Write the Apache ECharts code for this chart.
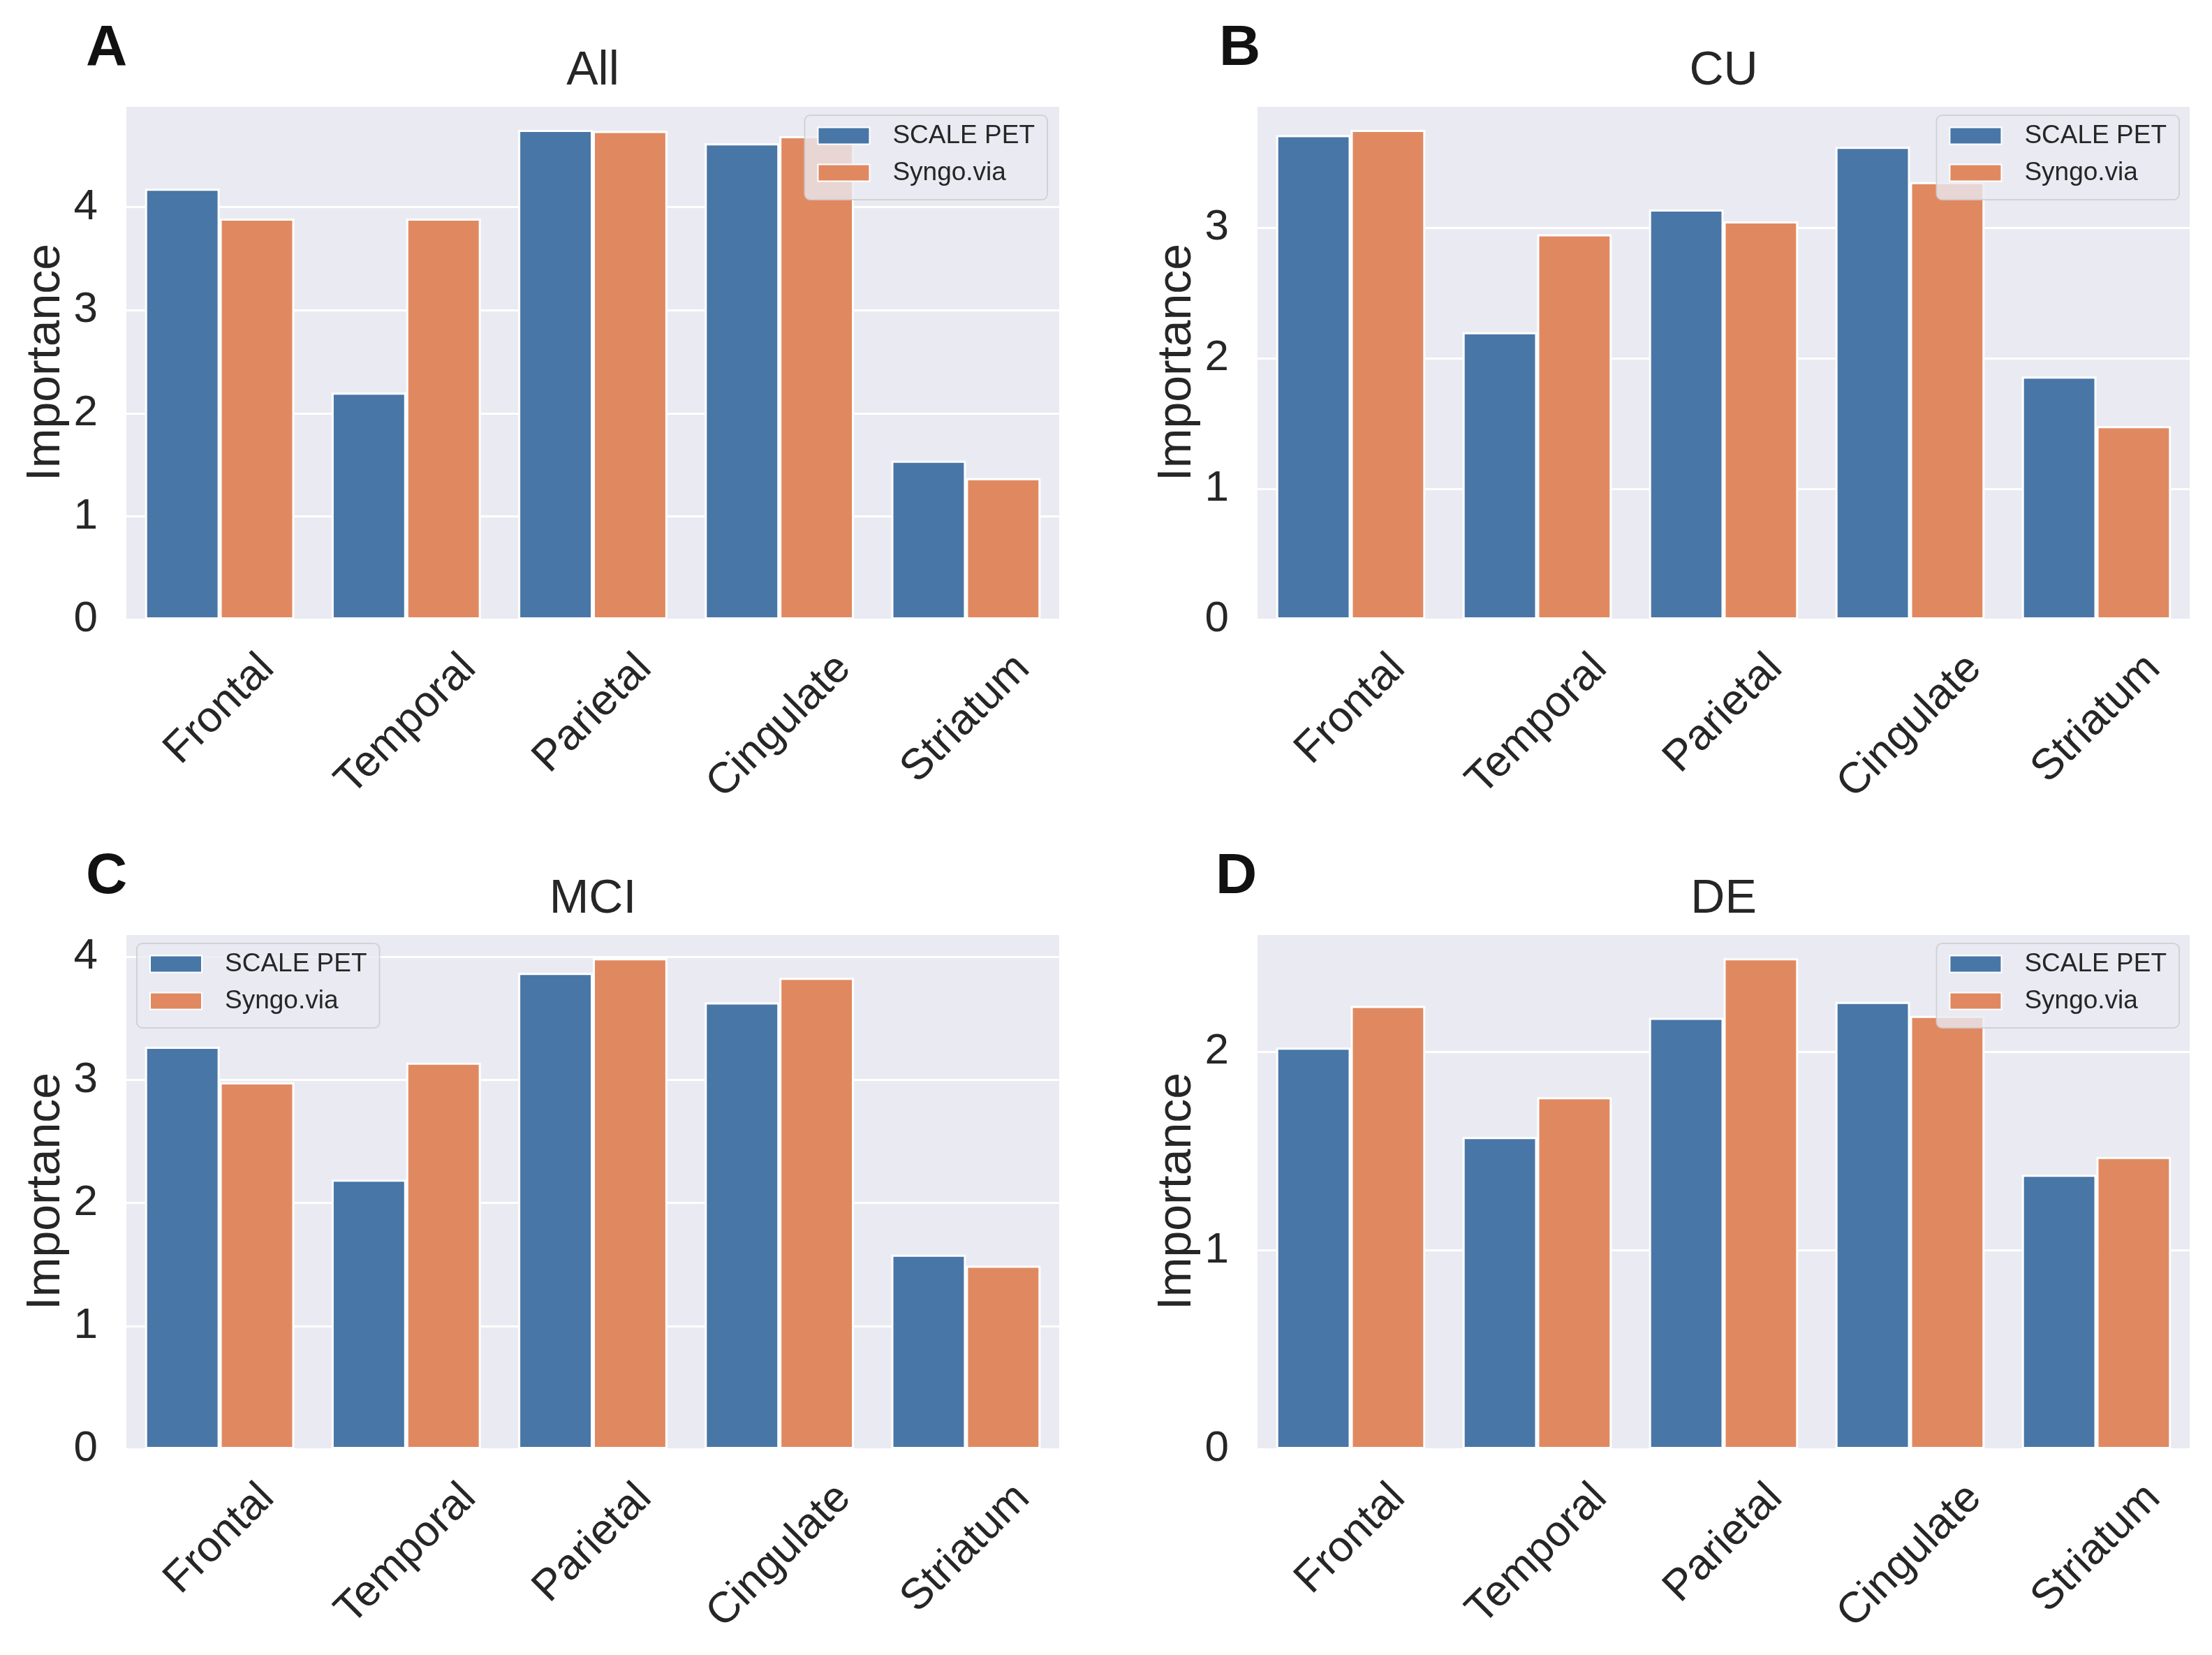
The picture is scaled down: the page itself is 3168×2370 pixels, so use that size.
<!DOCTYPE html>
<html>
<head>
<meta charset="utf-8">
<script src="https://cdn.jsdelivr.net/npm/echarts@6/dist/echarts.min.js"></script>
<style>
html,body{margin:0;padding:0;background:#fff;}
#chart{width:3168px;height:2370px;}
</style>
</head>
<body>
<div id="chart"></div>
<script>
// ---- data ----
const categories = ['Frontal', 'Temporal', 'Parietal', 'Cingulate', 'Striatum'];
const seriesNames = ['SCALE PET', 'Syngo.via'];
const panelLetters = ['A', 'B', 'C', 'D'];
const panelTitles = ['All', 'CU', 'MCI', 'DE'];
const allScale   = [4.18, 2.20, 4.75, 4.62, 1.54];
const allSyngo   = [3.89, 3.89, 4.74, 4.69, 1.37];
const cuScale    = [3.71, 2.20, 3.14, 3.62, 1.86];
const cuSyngo    = [3.75, 2.95, 3.05, 3.35, 1.48];
const mciScale   = [3.27, 2.19, 3.87, 3.63, 1.58];
const mciSyngo   = [2.98, 3.14, 3.99, 3.83, 1.49];
const deScale    = [2.02, 1.57, 2.17, 2.25, 1.38];
const deSyngo    = [2.23, 1.77, 2.47, 2.18, 1.47];
const panelData = [[allScale, allSyngo], [cuScale, cuSyngo], [mciScale, mciSyngo], [deScale, deSyngo]];

// ---- style / layout ----
const FONT = '"Liberation Sans", Arial, Helvetica, sans-serif';
const TXT = '#262626';
const COLORS = ['#4876A6', '#E08960'];
const TICK = 62, LABEL = 68, TITLE = 68, LEG = 37, LETTER = 82;
const grids = [
  {left: 181,  top: 151,  width: 1336, height: 736},
  {left: 1801, top: 151,  width: 1335, height: 736},
  {left: 181,  top: 1337, width: 1336, height: 738},
  {left: 1801, top: 1337, width: 1335, height: 738}
];
const legendPos = [
  {right: 1668, top: 165},
  {right: 47,   top: 165},
  {left: 196,   top: 1351},
  {right: 47,   top: 1351}
];
const letterPos = [
  {left: 123, top: 29}, {left: 1746, top: 29},
  {left: 123, top: 1215}, {left: 1741, top: 1215}
];

// per-label padding so rotated labels are top-aligned like matplotlib
const mctx = document.createElement('canvas').getContext('2d');
mctx.font = TICK + 'px ' + FONT;
const widths = categories.map(c => mctx.measureText(c).width);
const wmin = Math.min.apply(null, widths);
const xData = categories.map((c, i) => {
  const p = (widths[i] - wmin) / 2;
  return {value: c, textStyle: {
    align: 'center', verticalAlign: 'top', lineHeight: TICK,
    fontFamily: FONT, fontSize: TICK, color: TXT,
    padding: [p / 2 - TICK / 2, p, 0, 0]
  }};
});

const option = {
  animation: false,
  backgroundColor: '#ffffff',
  textStyle: {fontFamily: FONT},
  title: [],
  legend: [],
  grid: [],
  xAxis: [],
  yAxis: [],
  series: []
};

grids.forEach((g, k) => {
  option.grid.push(Object.assign({
    show: true, backgroundColor: '#EAEAF2', borderWidth: 0,
    containLabel: false, outerBoundsMode: 'none'
  }, g));
  option.title.push({
    text: panelTitles[k],
    left: g.left + g.width / 2,
    top: g.top - 49 - TITLE / 2,
    textAlign: 'center',
    padding: 0,
    textStyle: {fontFamily: FONT, fontSize: TITLE, fontWeight: 'normal', color: TXT}
  });
  option.title.push(Object.assign({
    text: panelLetters[k],
    padding: 0,
    textStyle: {fontFamily: FONT, fontSize: LETTER, fontWeight: 'bold', color: '#111'}
  }, letterPos[k]));
  option.legend.push(Object.assign({
    data: seriesNames,
    orient: 'vertical',
    icon: 'rect',
    itemWidth: 74,
    itemHeight: 24,
    itemGap: 16,
    padding: [11, 18, 20, 18],
    backgroundColor: 'rgba(234,234,242,0.8)',
    borderColor: 'rgba(204,204,204,0.8)',
    borderWidth: 2,
    borderRadius: 8,
    selectedMode: false,
    z: 10,
    textStyle: {fontFamily: FONT, fontSize: LEG, color: TXT, padding: [0, 0, 0, 28]}
  }, legendPos[k]));
  option.xAxis.push({
    type: 'category',
    gridIndex: k,
    data: xData,
    axisLine: {show: false},
    axisTick: {show: false},
    splitLine: {show: false},
    axisLabel: {
      interval: 0,
      rotate: 45,
      align: 'center',
      verticalAlign: 'middle',
      margin: 129,
      fontFamily: FONT,
      fontSize: TICK,
      color: TXT
    }
  });
  option.yAxis.push({
    type: 'value',
    gridIndex: k,
    min: 0,
    max: function (v) { return v.max * 1.05; },
    interval: 1,
    name: 'Importance',
    nameLocation: 'middle',
    nameRotate: 90,
    nameGap: 81,
    nameTextStyle: {fontFamily: FONT, fontSize: LABEL, color: TXT},
    axisLine: {show: false},
    axisTick: {show: false},
    splitLine: {show: true, lineStyle: {color: '#ffffff', width: 3}},
    axisLabel: {
      margin: 41,
      fontFamily: FONT,
      fontSize: TICK,
      color: TXT,
      formatter: function (v) { return Math.abs(v - Math.round(v)) < 1e-9 ? String(Math.round(v)) : ''; }
    }
  });
  seriesNames.forEach((name, s) => {
    option.series.push({
      type: 'bar',
      name: name,
      xAxisIndex: k,
      yAxisIndex: k,
      data: panelData[k][s],
      barGap: '0%',
      barCategoryGap: '20%',
      itemStyle: {color: COLORS[s], borderColor: '#ffffff', borderWidth: 3},
      emphasis: {disabled: true}
    });
  });
});

const chart = echarts.init(document.getElementById('chart'), null, {renderer: 'canvas'});
chart.setOption(option);
</script>
</body>
</html>
